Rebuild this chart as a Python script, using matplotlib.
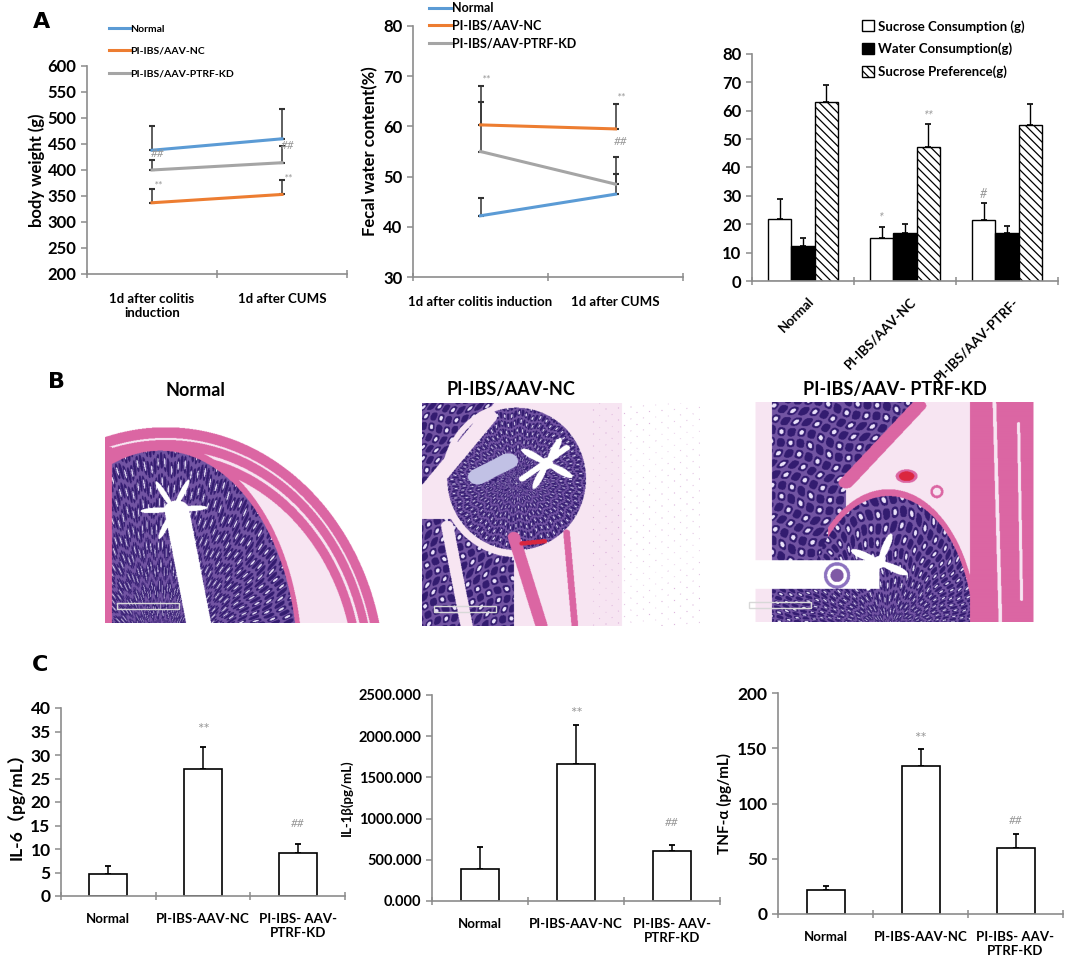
import numpy as np
import matplotlib
matplotlib.use("Agg")
import matplotlib.pyplot as plt
from matplotlib.patches import Rectangle

plt.rcParams['font.family'] = ['Lato', 'DejaVu Sans']
plt.rcParams['hatch.linewidth'] = 0.9

W, H = 1065, 959

# ---- panel A data ----
time_labels = ["1d after colitis\ninduction", "1d after CUMS"]
time_labels2 = ["1d after colitis induction", "1d after CUMS"]
line_groups = ["Normal", "PI-IBS/AAV-NC", "PI-IBS/AAV-PTRF-KD"]
line_colors = ["#5B9BD5", "#ED7D31", "#A5A5A5"]

bw_mean = [[438, 460], [337, 353], [400, 414]]
bw_err = [[47, 57], [27, 27], [20, 32]]
bw_marks = [("##", 0, 432), ("**", 0, 370), ("##", 1, 447), ("**", 1, 382)]

fw_mean = [[42.2, 46.5], [60.3, 59.5], [55.0, 48.5]]
fw_err = [[3.6, 4.0], [4.5, 4.9], [13.0, 5.5]]
fw_marks = [("**", 0, 69.3), ("**", 1, 65.6), ("##", 1, 57.0)]

suc_groups = ["Normal", "PI-IBS/AAV-NC", "PI-IBS/AAV-PTRF-"]
suc_names = ["Sucrose Consumption (g)", "Water Consumption(g)", "Sucrose Preference(g)"]
suc_cons = [22.0, 15.2, 21.5]
suc_cons_err = [7.0, 3.7, 6.0]
water_cons = [12.2, 16.8, 17.0]
water_cons_err = [3.0, 3.2, 2.5]
suc_pref = [63.0, 47.2, 55.0]
suc_pref_err = [6.0, 8.0, 7.4]
suc_marks = [("*", 1, 0, 22.5), ("**", 1, 2, 58.5), ("#", 2, 0, 30.5)]

# ---- panel B ----
b_titles = ["Normal", "PI-IBS/AAV-NC", "PI-IBS/AAV- PTRF-KD"]

# ---- panel C data ----
c_groups = ["Normal", "PI-IBS-AAV-NC", "PI-IBS- AAV-\nPTRF-KD"]
il6 = [4.7, 27.0, 9.2]
il6_err = [1.7, 4.8, 1.9]
il1b = [385, 1660, 607]
il1b_err = [275, 475, 75]
tnf = [22, 134, 60]
tnf_err = [3, 15, 12.5]

fig = plt.figure(figsize=(W / 100, H / 100), dpi=100)


def rect(l, r, top, bot):
    return [l / W, 1 - bot / H, (r - l) / W, (bot - top) / H]


def style(ax, fs=11):
    for s in ["top", "right"]:
        ax.spines[s].set_visible(False)
    for s in ["left", "bottom"]:
        ax.spines[s].set_color("#8c8c8c")
        ax.spines[s].set_linewidth(1.2)
    ax.tick_params(axis="both", colors="#8c8c8c", length=4, width=1.1,
                   labelcolor="black", labelsize=fs)
    ax.tick_params(axis="x", direction="inout", length=6)
    ax.patch.set_alpha(0)


def set_y(ax, ticks, fmt, fs):
    ax.set_yticks(ticks, labels=[fmt.format(v) for v in ticks], fontweight="bold", fontsize=fs)


def line_panel(ax, means, errs, marks, xlabels):
    x = np.array([0.5, 1.5])
    for m, e, c, name in zip(means, errs, line_colors, line_groups):
        ax.errorbar(x, m, yerr=[np.zeros(2), e], color="#333333", elinewidth=1.1,
                    capsize=2.5, capthick=1.5, fmt="none", zorder=2)
        ax.plot(x, m, color=c, lw=2.2, label=name, zorder=3)
    for txt, i, y in marks:
        ax.text(x[i] + 0.04, y, txt, color="#999999", fontsize=8.5, style="italic",
                ha="center", va="center", zorder=4)
    ax.set_xlim(0, 2)
    ax.set_xticks([0, 1, 2])
    ax.set_xticklabels([])
    ax.set_xticks(x, minor=True)
    ax.set_xticklabels(xlabels, minor=True, fontsize=9.5, fontweight="bold")
    ax.tick_params(axis="x", which="minor", length=0, pad=14)


# ---- panel B: stylised H&E sections (drawn first, charts sit above) ----
purple = np.array([0.45, 0.33, 0.64])
dark = np.array([0.20, 0.11, 0.44])
light = np.array([0.92, 0.89, 0.98])
pink = np.array([0.86, 0.40, 0.64])
pale = np.array([0.97, 0.90, 0.95])


def glands(img, mask, a, b):
    # wobbly lattice of crypts: dark walls, pale lumens
    a2 = a + 0.9 * np.sin(b * 0.43)
    b2 = b + 0.7 * np.sin(a * 0.31)
    p = np.sin(a2) * np.sin(b2)
    img[mask] = purple
    img[mask & (np.abs(p) > 0.3)] = dark
    img[mask & (p > 0.78)] = light


def star(X, Y, cx, cy, size, arms, rot, asp=1.0):
    dx, dy = (X - cx) * asp, Y - cy
    r = np.hypot(dx, dy)
    ph = np.arctan2(dy, dx)
    return r < size * (0.2 + 0.8 * np.abs(np.cos(arms / 2 * (ph - rot))) ** 8)


def band(X, Y, x0, y0, x1, y1, hw):
    # pixels within hw of a segment
    dx, dy = x1 - x0, y1 - y0
    t = np.clip(((X - x0) * dx + (Y - y0) * dy) / (dx * dx + dy * dy), 0, 1)
    return np.hypot(X - x0 - t * dx, Y - y0 - t * dy) < hw


def tissue(kind, w, h):
    X, Y = np.meshgrid(np.linspace(0, 1, 2 * w), np.linspace(0, 1, 2 * h))
    img = np.ones(X.shape + (3,))
    asp = w / h
    if kind == 0:
        ro = np.hypot((X - 0.22) / 0.80, (Y - 1.30) / 1.30)
        rm = np.hypot((X - 0.20) / 0.50, (Y - 1.20) / 1.08)
        th = np.arctan2((Y - 1.20) / 1.08, (X - 0.20) / 0.50)
        img[ro < 1.0] = pale
        img[(ro > 0.86) & (ro < 1.0)] = pink
        img[(ro > 0.9) & (ro < 0.912)] = pale
        img[(ro > 0.95) & (ro < 0.958)] = pale
        img[rm < 1.035] = pink
        glands(img, rm <= 1.0, th * 120, rm * 32)
        lum = star(X, Y, 0.25, 0.42, 0.17, 6, -1.1, asp) | band(X, Y, 0.26, 0.42, 0.34, 1.0, 0.045)
        img[lum & (rm <= 1.0)] = 1.0
        img[(X < 0.025) & (Y > 0.1)] = pink
    elif kind == 1:
        img[X < 0.72] = pale
        dots = (np.sin(X * 140) * np.sin(Y * 117 + X * 12) > 0.97) & (X >= 0.6)
        img[dots] = [0.82, 0.62, 0.82]
        rm = np.hypot((X - 0.34) / 0.25, (Y - 0.34) / 0.32)
        th = np.arctan2(Y - 0.34, X - 0.34)
        glands(img, rm < 1.0, th * 70, rm * 26)
        up = (Y < 0.40 - 1.55 * X) & (rm > 1.08)
        glands(img, up, X * 110 + Y * 40, Y * 70)
        low = (X < 0.33) & (Y > 0.52) & (rm > 1.1)
        glands(img, low, X * 100, Y * 70 + X * 30)
        img[low & band(X, Y, 0.09, 0.55, 0.16, 1.0, 0.022)] = pale
        img[band(X, Y, 0.0, 0.42, 0.24, 0.06, 0.03)] = pale
        img[band(X, Y, 0.2, 0.33, 0.31, 0.26, 0.035)] = [0.76, 0.76, 0.9]
        lum = (star(X, Y, 0.45, 0.27, 0.13, 4, 0.5, asp) | band(X, Y, 0.36, 0.34, 0.52, 0.2, 0.012)) & (rm < 0.95)
        img[lum] = 1.0
        img[band(X, Y, 0.33, 0.6, 0.43, 1.0, 0.022)] = pink
        img[band(X, Y, 0.52, 0.58, 0.55, 1.0, 0.012)] = pink
        img[band(X, Y, 0.36, 0.63, 0.44, 0.62, 0.01)] = [0.85, 0.15, 0.25]
    else:
        img[(X > 0.06) & (X < 0.77)] = pale
        up = (X > 0.115) & (X < 0.59 - 0.68 * Y)
        left = (X > 0.115) & (X < 0.36) & (Y < 0.72)
        glands(img, up | left, X * 90 + Y * 25, Y * 60 - X * 20)
        img[band(X, Y, 0.36, 0.37, 0.6, 0.02, 0.025)] = pink
        rd = np.hypot((X - 0.50) / 0.28, (Y - 1.05) / 0.62)
        th = np.arctan2(Y - 1.05, X - 0.50)
        img[(rd > 1.0) & (rd < 1.05) & (X > 0.3)] = pink
        glands(img, (rd <= 1.0) | ((Y > 0.85) & (X > 0.115) & (X < 0.72)), th * 60, rd * 30)
        img[(X > 0.77) & (X < 0.98)] = pink
        img[band(X, Y, 0.85, 0.0, 0.87, 1.0, 0.006)] = pale
        img[band(X, Y, 0.93, 0.1, 0.94, 0.9, 0.005)] = pale
        img[star(X, Y, 0.47, 0.73, 0.14, 4, 0.4, asp) & (rd <= 1.0)] = 1.0
        img[(X < 0.47) & (Y > 0.72) & (Y < 0.85)] = 1.0
        ring = np.hypot((X - 0.33) * asp, Y - 0.79)
        img[(ring > 0.045) & (ring < 0.06)] = [0.55, 0.45, 0.75]
        img[ring < 0.03] = [0.5, 0.35, 0.65]
        vess = np.hypot((X - 0.56) * asp, (Y - 0.34) * 1.6)
        img[(vess >= 0.035) & (vess < 0.05)] = pink
        img[vess < 0.035] = [0.86, 0.15, 0.25]
        ring2 = np.hypot((X - 0.66) * asp, Y - 0.41)
        img[(ring2 > 0.018) & (ring2 < 0.03)] = pink
    return img


b_boxes = [(105, 380, 427, 623), (422, 700, 403, 626), (737, 1040, 402, 622)]
for k, (l, r, t, b) in enumerate(b_boxes):
    axb = fig.add_axes(rect(l, r, t, b))
    axb.imshow(tissue(k, r - l, b - t), aspect="auto", interpolation="antialiased",
               extent=(0, r - l, b - t, 0))
    axb.axis("off")
    axb.add_patch(Rectangle((12, (b - t) - 20), 62, 6, fill=False, ec="#d8d8d8", lw=1))
b_title_x = [195, 511, 895]
for x, t in zip(b_title_x, b_titles):
    fig.text(x / W, 1 - 390 / H, t, ha="center", va="center", fontsize=13, fontweight="bold")

# A1 body weight
ax1 = fig.add_axes(rect(87, 347, 66, 274))
line_panel(ax1, bw_mean, bw_err, bw_marks, time_labels)
ax1.set_ylim(200, 600)
style(ax1)
set_y(ax1, range(200, 601, 50), "{:d}", 12)
ax1.set_ylabel("body weight (g)", fontsize=12, fontweight="bold", labelpad=2)
ax1.legend(loc="upper left", bbox_to_anchor=(100 / W, 1 - 15 / H), bbox_transform=fig.transFigure,
           frameon=False, handlelength=2.0, handletextpad=0.0, labelspacing=1.25,
           prop={"size": 7.5, "weight": "bold"})

# A2 fecal water content
ax2 = fig.add_axes(rect(413, 683, 26, 277))
line_panel(ax2, fw_mean, fw_err, fw_marks, time_labels2)
ax2.set_ylim(30, 80)
style(ax2)
set_y(ax2, range(30, 81, 10), "{:d}", 12)
ax2.set_ylabel("Fecal water content(%)", fontsize=12, fontweight="bold", labelpad=4)
ax2.legend(loc="upper left", bbox_to_anchor=(418 / W, 1 + 9 / H), bbox_transform=fig.transFigure,
           frameon=False, handlelength=1.8, handletextpad=0.0, labelspacing=0.45,
           prop={"size": 9, "weight": "bold"})

# A3 sucrose preference
ax3 = fig.add_axes(rect(752, 1058, 54, 281))
ax3.set_zorder(10)
gx = np.arange(3)
bw = 0.23
series = [(suc_cons, suc_cons_err, "white", ""),
          (water_cons, water_cons_err, "black", ""),
          (suc_pref, suc_pref_err, "white", "\\\\\\\\")]
for k, (vals, err, fc, hatch) in enumerate(series):
    pos = gx + (k - 1) * bw
    ax3.bar(pos, vals, bw, color=fc, edgecolor="black", hatch=hatch, linewidth=1.0,
            label=suc_names[k], zorder=2)
    ax3.errorbar(pos, vals, yerr=[np.zeros(3), err], fmt="none", ecolor="black",
                 elinewidth=1.0, capsize=2.5, capthick=1.2, zorder=1)
for txt, g, k, y in suc_marks:
    ax3.text(g + (k - 1) * bw, y, txt, color="#999999", fontsize=9, style="italic",
             ha="center", va="center")
ax3.set_xlim(-0.5, 2.5)
ax3.set_ylim(0, 80)
ax3.set_xticks([-0.5, 0.5, 1.5, 2.5])
ax3.set_xticklabels([])
style(ax3)
set_y(ax3, range(0, 81, 10), "{:d}", 12)
for g, name in enumerate(suc_groups):
    ax3.text(g + 0.05, -5.0, name, rotation=45, ha="right", va="top", rotation_mode="anchor",
             fontsize=9.5, fontweight="bold")
ax3.legend(loc="upper left", bbox_to_anchor=(850 / W, 1 - 8 / H), bbox_transform=fig.transFigure,
           frameon=False, handlelength=0.9, handleheight=0.9, handletextpad=0.3,
           labelspacing=0.75, prop={"size": 9.5, "weight": "bold"})


# ---- panel C ----
def cyto(ax, vals, err, ylim, step, fmt, ylabel, yfs, stars, hashes, tfs):
    x = np.arange(3)
    ax.bar(x, vals, 0.4, color="white", edgecolor="black", linewidth=1.2, zorder=2)
    ax.errorbar(x, vals, yerr=[np.zeros(3), err], fmt="none", ecolor="black",
                elinewidth=1.1, capsize=2.5, capthick=1.3, zorder=1)
    ax.text(1, stars, "**", color="#999999", fontsize=11, ha="center", va="center")
    ax.text(2, hashes, "##", color="#999999", fontsize=8.5, style="italic", ha="center", va="center")
    ax.set_xlim(-0.5, 2.5)
    ax.set_ylim(0, ylim)
    ax.set_xticks([-0.5, 0.5, 1.5, 2.5])
    ax.set_xticklabels([])
    ax.set_xticks(x, minor=True)
    ax.set_xticklabels(c_groups, minor=True, fontsize=9.5, fontweight="bold")
    ax.tick_params(axis="x", which="minor", length=0, pad=12)
    style(ax)
    set_y(ax, np.arange(0, ylim + step / 2, step), fmt, tfs)
    ax.set_ylabel(ylabel, fontsize=yfs, fontweight="bold",
                  family=["Lato", "Noto Sans CJK SC", "DejaVu Sans"])


axc1 = fig.add_axes(rect(61, 345, 708, 896))
cyto(axc1, il6, il6_err, 40, 5, "{:.0f}", "IL-6（pg/mL）", 12.5, 35.3, 15.5, 12.5)
axc2 = fig.add_axes(rect(432, 720, 695, 901))
cyto(axc2, il1b, il1b_err, 2500, 500, "{:.3f}", "IL-1β(pg/mL)", 9.5, 2270, 950, 10.5)
axc3 = fig.add_axes(rect(778, 1063, 693, 914))
cyto(axc3, tnf, tnf_err, 200, 50, "{:.0f}", "TNF-α (pg/mL)", 11, 158, 85, 12.5)

# panel letters
for letter, x, y in [("A", 42, 22), ("B", 57, 382), ("C", 40, 665)]:
    fig.text(x / W, 1 - y / H, letter, fontsize=16, fontweight="bold", ha="center", va="center",
             family="DejaVu Sans")

fig.savefig("out.png", dpi=100)
